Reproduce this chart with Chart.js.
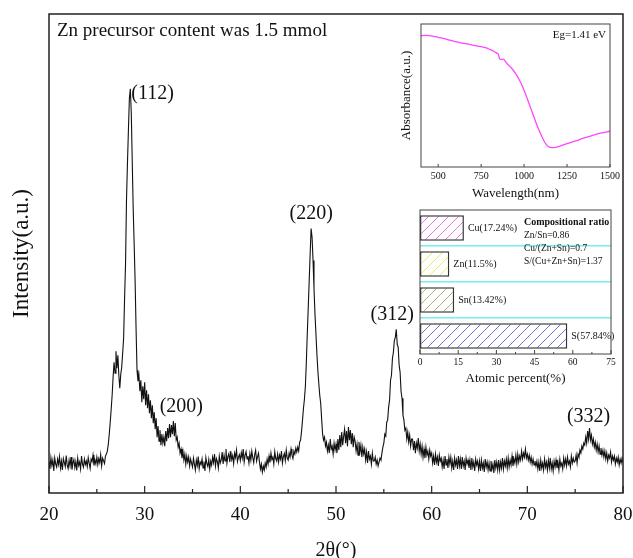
<!DOCTYPE html>
<html>
<head>
<meta charset="utf-8">
<script src="https://cdn.jsdelivr.net/npm/chart.js@4.4.1/dist/chart.umd.min.js"></script>
<style>
  html, body { margin: 0; padding: 0; background: #fff; }
  #wrap { position: relative; width: 633px; height: 558px; }
  canvas { position: absolute; }
  #xrdChart { left: 0; top: 0; }
  #absChart { left: 395px; top: 14px; }
  #barChart { left: 395px; top: 200px; }
</style>
</head>
<body>
<div id="wrap">
  <canvas id="xrdChart" width="633" height="558"></canvas>
  <canvas id="absChart" width="228" height="190"></canvas>
  <canvas id="barChart" width="228" height="190"></canvas>
</div>
<script>
// XRD pattern, 2theta 20..80 step 0.1 (intensity, a.u.)
const xrdStart = 20;
const xrdStep = 0.1;
const int20s = [
  62, 48, 71, 55, 66, 44, 70, 58, 52, 68,
  57, 73, 50, 64, 46, 69, 61, 53, 75, 56,
  49, 66, 54, 72, 47, 60, 67, 51, 63, 45,
  70, 55, 62, 48, 74, 58, 52, 68, 57, 64,
  53, 71, 60, 49, 68, 63, 76, 55, 66, 58,
  72, 57, 69, 61, 77, 54, 70, 65, 59, 74,
  78, 84, 98, 118, 142, 168, 196, 232, 262, 240,
  284, 250, 276, 236, 210, 238, 252, 280, 310, 390,
  458, 586, 660, 726, 790, 810, 762, 666, 570, 500,
  426, 330, 246, 224, 236, 204, 226, 182, 214, 188
];
const int30s = [
  222, 176, 206, 170, 198, 160, 186, 150, 176, 140,
  162, 128, 150, 112, 134, 104, 126, 96, 118, 100,
  112, 94, 124, 104, 130, 110, 138, 112, 136, 118,
  144, 114, 140, 106, 112, 92, 100, 80, 88, 70,
  84, 66, 78, 58, 74, 62, 72, 54, 68, 60,
  52, 70, 58, 46, 66, 55, 73, 49, 62, 57,
  68, 50, 63, 44, 71, 59, 53, 67, 48, 64,
  56, 72, 61, 78, 54, 69, 63, 50, 74, 60,
  66, 82, 58, 76, 64, 88, 60, 73, 79, 62,
  84, 67, 75, 59, 80, 71, 86, 63, 72, 77
];
const int40s = [
  65, 81, 70, 88, 62, 76, 83, 68, 74, 60,
  79, 66, 84, 71, 61, 77, 86, 64, 73, 80,
  62, 48, 58, 42, 54, 46, 60, 52, 68, 58,
  74, 61, 80, 67, 72, 58, 83, 69, 64, 78,
  62, 76, 68, 84, 60, 73, 79, 65, 86, 70,
  66, 80, 72, 88, 76, 69, 84, 78, 90, 82,
  92, 84, 102, 106, 124, 146, 170, 188, 214, 262,
  320, 372, 426, 480, 530, 512, 466, 410, 360, 320,
  280, 246, 220, 196, 180, 148, 118, 106, 112, 94,
  102, 84, 96, 80, 108, 88, 94, 78, 100, 86
];
const int50s = [
  98, 80, 108, 86, 116, 92, 122, 96, 114, 128,
  100, 124, 94, 132, 106, 126, 98, 120, 92, 112,
  104, 84, 98, 76, 102, 82, 96, 72, 92, 78,
  88, 66, 82, 60, 84, 68, 74, 58, 80, 64,
  64, 72, 58, 66, 54, 62, 70, 66, 80, 92,
  100, 118, 114, 142, 146, 172, 186, 226, 236, 270,
  282, 306, 312, 328, 298, 292, 256, 242, 204, 190,
  156, 146, 126, 130, 108, 122, 102, 116, 94, 108,
  108, 86, 104, 80, 100, 90, 110, 84, 98, 78,
  94, 72, 88, 70, 92, 76, 84, 68, 86, 74
];
const int60s = [
  80, 60, 74, 56, 78, 62, 72, 54, 76, 64,
  70, 52, 66, 48, 74, 56, 68, 50, 72, 58,
  72, 50, 64, 46, 70, 56, 66, 48, 74, 54,
  68, 48, 72, 54, 64, 46, 70, 58, 66, 50,
  66, 46, 70, 52, 62, 44, 68, 56, 64, 48,
  64, 44, 66, 50, 60, 42, 68, 52, 62, 46,
  60, 44, 64, 48, 58, 40, 66, 50, 62, 46,
  66, 46, 62, 50, 70, 48, 64, 54, 68, 50,
  70, 52, 66, 56, 74, 54, 68, 60, 76, 58,
  78, 62, 74, 66, 84, 68, 80, 72, 88, 70
];
const int70s = [
  78, 66, 76, 62, 72, 58, 68, 56, 64, 54,
  64, 48, 62, 44, 66, 50, 60, 46, 68, 52,
  62, 46, 66, 50, 70, 48, 60, 44, 64, 52,
  66, 50, 62, 46, 68, 54, 60, 48, 70, 56,
  68, 54, 72, 58, 64, 52, 74, 60, 70, 62,
  64, 76, 60, 78, 72, 86, 80, 94, 88, 100,
  96, 112, 100, 124, 108, 130, 106, 116, 98, 108,
  92, 102, 86, 98, 82, 94, 78, 90, 76, 86,
  72, 84, 68, 80, 64, 76, 70, 82, 62, 74,
  66, 74, 58, 70, 62, 72, 56, 68, 60, 70,
  60
];
const xrdTicks = [20, 30, 40, 50, 60, 70, 80];
const peakHkl = ['(112)', '(200)', '(220)', '(312)', '(332)'];
const peakTheta = [28.5, 33.0, 47.4, 56.3, 76.4];
const sampleNote = 'Zn precursor content was 1.5 mmol';

// absorbance inset
const absWavelength = [400, 425, 450, 475, 500, 550, 600, 650, 700, 750, 775, 800, 825, 845, 850, 855, 862, 870, 880, 890, 900, 925, 950, 975, 1000, 1025, 1050, 1075, 1100, 1125, 1150, 1175, 1200, 1250, 1300, 1350, 1400, 1450, 1500];
const absValue = [0.918, 0.921, 0.918, 0.914, 0.907, 0.893, 0.876, 0.864, 0.853, 0.841, 0.834, 0.822, 0.808, 0.794, 0.790, 0.764, 0.752, 0.752, 0.755, 0.741, 0.724, 0.694, 0.654, 0.603, 0.537, 0.456, 0.374, 0.292, 0.222, 0.164, 0.138, 0.136, 0.143, 0.164, 0.182, 0.203, 0.222, 0.238, 0.250];
const absTicks = [500, 750, 1000, 1250, 1500];
const bandGap = 'Eg=1.41 eV';

// composition inset
const elements = ['Cu', 'Zn', 'Sn', 'S'];
const atomicPercent = [17.24, 11.5, 13.42, 57.84];
const percentTicks = [0, 15, 30, 45, 60, 75];
const ratioNames = ['Zn/Sn', 'Cu/(Zn+Sn)', 'S/(Cu+Zn+Sn)'];
const ratioValues = [0.86, 0.7, 1.37];

const serif = '"Liberation Serif", "Times New Roman", serif';
Chart.defaults.font.family = serif;
Chart.defaults.color = '#111';
Chart.defaults.animation = false;

const xrdData = [].concat(int20s, int30s, int40s, int50s, int60s, int70s)
  .map((v, i) => ({ x: Math.round((xrdStart + i * xrdStep) * 10) / 10, y: v }));

// label placement next to each reflection (pixels from the local maximum)
const peakLabelStyle = [
  { align: 'left', dx: 1, dy: 5 },
  { align: 'center', dx: 8, dy: -14 },
  { align: 'center', dx: 0, dy: -15 },
  { align: 'center', dx: -4, dy: -15 },
  { align: 'center', dx: 0, dy: -11 }
];

const xrdDecor = {
  id: 'xrdDecor',
  afterDraw(chart) {
    const { ctx, chartArea: a, scales: { x, y } } = chart;
    ctx.save();
    ctx.strokeStyle = '#222';
    ctx.lineWidth = 1.5;
    ctx.strokeRect(a.left, a.top, a.right - a.left, a.bottom - a.top);
    ctx.lineWidth = 1.2;
    for (let i = 0; i < xrdTicks.length; i++) {
      const px = x.getPixelForValue(xrdTicks[i]);
      ctx.beginPath(); ctx.moveTo(px, a.bottom); ctx.lineTo(px, a.bottom - 7); ctx.stroke();
      if (i < xrdTicks.length - 1) {
        const pm = x.getPixelForValue((xrdTicks[i] + xrdTicks[i + 1]) / 2);
        ctx.beginPath(); ctx.moveTo(pm, a.bottom); ctx.lineTo(pm, a.bottom - 4); ctx.stroke();
      }
    }
    ctx.fillStyle = '#111';
    ctx.textBaseline = 'middle';
    ctx.font = '19px ' + serif;
    ctx.textAlign = 'left';
    ctx.fillText(sampleNote, a.left + 8, a.top + 17);
    ctx.font = '20px ' + serif;
    peakHkl.forEach((hkl, i) => {
      let best = 0;
      xrdData.forEach(p => { if (Math.abs(p.x - peakTheta[i]) <= 0.3 && p.y > best) best = p.y; });
      const s = peakLabelStyle[i];
      ctx.textAlign = s.align;
      ctx.fillText(hkl, x.getPixelForValue(peakTheta[i]) + s.dx, y.getPixelForValue(best) + s.dy);
    });
    ctx.restore();
  }
};

new Chart(document.getElementById('xrdChart'), {
  type: 'line',
  data: {
    datasets: [{
      data: xrdData,
      borderColor: '#111',
      borderWidth: 1.1,
      pointRadius: 0,
      tension: 0
    }]
  },
  options: {
    responsive: false,
    layout: { padding: { top: 14, right: 10, left: 0, bottom: 0 } },
    plugins: { legend: { display: false }, tooltip: { enabled: false } },
    scales: {
      x: {
        type: 'linear', min: 20, max: 80,
        afterBuildTicks: s => { s.ticks = xrdTicks.map(v => ({ value: v })); },
        afterFit: s => { s.height = 65; s.paddingLeft = 0; s.paddingRight = 0; },
        grid: { display: false, drawTicks: false },
        border: { display: false },
        ticks: { font: { size: 19 }, padding: 11, color: '#111', callback: v => String(v) },
        title: { display: true, text: '2θ(°)', font: { size: 20, lineHeight: 0.7 }, padding: { top: 0, bottom: 0 }, color: '#111' }
      },
      y: {
        min: 0, max: 960,
        afterFit: s => { s.width = 49; },
        grid: { display: false, drawTicks: false },
        border: { display: false },
        ticks: { display: false },
        title: { display: true, text: 'Intensity(a.u.)', font: { size: 23 }, padding: { top: 8, bottom: 0 }, color: '#111' }
      }
    }
  },
  plugins: [xrdDecor]
});

// absorbance inset
const absDecor = {
  id: 'absDecor',
  afterDraw(chart) {
    const { ctx, chartArea: a, scales: { x } } = chart;
    ctx.save();
    ctx.strokeStyle = '#444';
    ctx.lineWidth = 1;
    ctx.strokeRect(a.left, a.top, a.right - a.left, a.bottom - a.top);
    absTicks.forEach(v => {
      const px = x.getPixelForValue(v);
      ctx.beginPath(); ctx.moveTo(px, a.bottom); ctx.lineTo(px, a.bottom - 3); ctx.stroke();
    });
    ctx.fillStyle = '#111';
    ctx.font = '11px ' + serif;
    ctx.textAlign = 'right';
    ctx.textBaseline = 'middle';
    ctx.fillText(bandGap, a.right - 4, a.top + 11);
    ctx.restore();
  }
};

new Chart(document.getElementById('absChart'), {
  type: 'line',
  data: {
    datasets: [{
      data: absWavelength.map((w, i) => ({ x: w, y: absValue[i] })),
      borderColor: '#ff44ff',
      borderWidth: 1.3,
      pointRadius: 0,
      cubicInterpolationMode: 'monotone'
    }]
  },
  options: {
    responsive: false,
    layout: { padding: { top: 10, right: 13, left: 0, bottom: 0 } },
    plugins: { legend: { display: false }, tooltip: { enabled: false } },
    scales: {
      x: {
        type: 'linear', min: 400, max: 1500,
        afterBuildTicks: s => { s.ticks = absTicks.map(v => ({ value: v })); },
        afterFit: s => { s.height = 37; s.paddingLeft = 0; s.paddingRight = 0; },
        grid: { display: false, drawTicks: false },
        border: { display: false },
        ticks: { font: { size: 10 }, padding: 3, maxRotation: 0, callback: v => String(v) },
        title: { display: true, text: 'Wavelength(nm)', font: { size: 13 }, padding: { top: 0, bottom: 3 } }
      },
      y: {
        min: 0, max: 1,
        afterFit: s => { s.width = 26; },
        grid: { display: false, drawTicks: false },
        border: { display: false },
        ticks: { display: false },
        title: { display: true, text: 'Absorbance(a.u.)', font: { size: 13 }, padding: { top: 4, bottom: 0 } }
      }
    }
  },
  plugins: [absDecor]
});

// composition inset
function hatch(color) {
  const c = document.createElement('canvas');
  c.width = 10; c.height = 10;
  const g = c.getContext('2d');
  g.fillStyle = '#fff';
  g.fillRect(0, 0, 10, 10);
  g.strokeStyle = color;
  g.lineWidth = 1;
  g.beginPath();
  g.moveTo(0, 10); g.lineTo(10, 0);
  g.moveTo(-1, 1); g.lineTo(1, -1);
  g.moveTo(9, 11); g.lineTo(11, 9);
  g.stroke();
  return g.createPattern(c, 'repeat');
}

const barDecor = {
  id: 'barDecor',
  afterDraw(chart) {
    const { ctx, chartArea: a, scales: { x } } = chart;
    ctx.save();
    ctx.strokeStyle = '#444';
    ctx.lineWidth = 1;
    ctx.strokeRect(a.left, a.top, a.right - a.left, a.bottom - a.top);
    for (let i = 0; i < percentTicks.length; i++) {
      const px = x.getPixelForValue(percentTicks[i]);
      ctx.beginPath(); ctx.moveTo(px, a.bottom); ctx.lineTo(px, a.bottom - 4); ctx.stroke();
      if (i < percentTicks.length - 1) {
        const pm = x.getPixelForValue((percentTicks[i] + percentTicks[i + 1]) / 2);
        ctx.beginPath(); ctx.moveTo(pm, a.bottom); ctx.lineTo(pm, a.bottom - 2); ctx.stroke();
      }
    }
    ctx.fillStyle = '#111';
    ctx.textBaseline = 'middle';
    ctx.textAlign = 'left';
    ctx.font = '10px ' + serif;
    chart.getDatasetMeta(0).data.forEach((bar, i) => {
      ctx.fillText(elements[i] + '(' + atomicPercent[i] + '%)', bar.x + 4, bar.y);
    });
    ctx.font = 'bold 10px ' + serif;
    ctx.fillText('Compositional ratio', a.left + 104, a.top + 12);
    ctx.font = '9.5px ' + serif;
    ratioNames.forEach((n, i) => {
      ctx.fillText(n + '=' + ratioValues[i], a.left + 104, a.top + 25 + i * 13);
    });
    ctx.restore();
  }
};

new Chart(document.getElementById('barChart'), {
  type: 'bar',
  data: {
    labels: elements,
    datasets: [{
      data: atomicPercent,
      backgroundColor: [hatch('#f070f0'), hatch('#eeee55'), hatch('#b8b070'), hatch('#7070d8')],
      borderColor: '#333',
      borderWidth: 1.5,
      borderSkipped: false,
      barPercentage: 0.9,
      categoryPercentage: 0.78
    }]
  },
  options: {
    responsive: false,
    indexAxis: 'y',
    layout: { padding: { top: 10, right: 12, left: 0, bottom: 0 } },
    plugins: { legend: { display: false }, tooltip: { enabled: false } },
    scales: {
      x: {
        type: 'linear', min: 0, max: 75,
        afterBuildTicks: s => { s.ticks = percentTicks.map(v => ({ value: v })); },
        afterFit: s => { s.height = 36; s.paddingLeft = 0; s.paddingRight = 0; },
        grid: { display: false, drawTicks: false },
        border: { display: false },
        ticks: { font: { size: 9.5 }, padding: 3, maxRotation: 0, callback: v => String(v) },
        title: { display: true, text: 'Atomic percent(%)', font: { size: 13 }, padding: { top: 0, bottom: 4 } }
      },
      y: {
        afterFit: s => { s.width = 25; },
        grid: {
          offset: true,
          drawTicks: false,
          lineWidth: 1.5,
          color: c => (c.index > 0 && c.index < elements.length) ? '#77eeee' : 'rgba(0,0,0,0)'
        },
        border: { display: false },
        ticks: { display: false }
      }
    }
  },
  plugins: [barDecor]
});
</script>
</body>
</html>
